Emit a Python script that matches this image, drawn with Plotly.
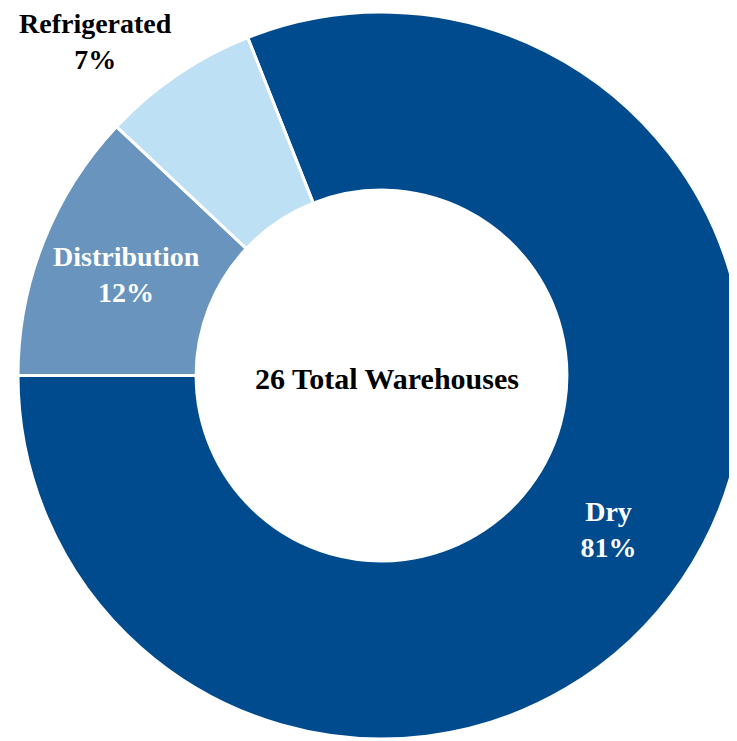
import plotly.graph_objects as go

# warehouse mix (share of total, %)
labels = ['Dry', 'Distribution', 'Refrigerated']
shares = [81, 12, 7]
colors = ['#004B8D', '#6894BD', '#BDE0F5']
total_label = '26 Total Warehouses'

fig = go.Figure()

# small slice label is drawn as an annotation outside the ring
fig.add_trace(go.Pie(
    labels=labels,
    values=shares,
    marker=dict(colors=colors, line=dict(color='white', width=3)),
    hole=0.51,
    sort=False,
    direction='clockwise',
    rotation=-21.6,
    texttemplate='<b>%{label}<br>%{value}%</b>',
    textposition=['inside', 'inside', 'none'],
    insidetextorientation='horizontal',
    textfont=dict(family='Liberation Serif', size=28, color='white'),
    hoverinfo='label+percent',
    domain=dict(x=[0, 1], y=[0, 1]),
))

fig.add_annotation(
    text='<b>%s<br>%d%%</b>' % (labels[2], shares[2]),
    x=0.106, y=0.959, xref='paper', yref='paper',
    xanchor='center', yanchor='middle',
    showarrow=False,
    font=dict(family='Liberation Serif', size=28, color='black'),
)

# centre label in the hole
fig.add_annotation(
    text='<b>' + total_label + '</b>',
    x=0.507, y=0.496, xref='paper', yref='paper',
    showarrow=False,
    font=dict(family='Liberation Serif', size=30, color='black'),
)

fig.update_layout(
    width=737, height=741,
    margin=dict(l=10, r=0, t=4, b=10),
    showlegend=False,
    paper_bgcolor='white',
    plot_bgcolor='white',
    font=dict(family='Liberation Serif'),
    uniformtext=dict(minsize=28, mode='show'),
)

fig.write_html("out.html")
